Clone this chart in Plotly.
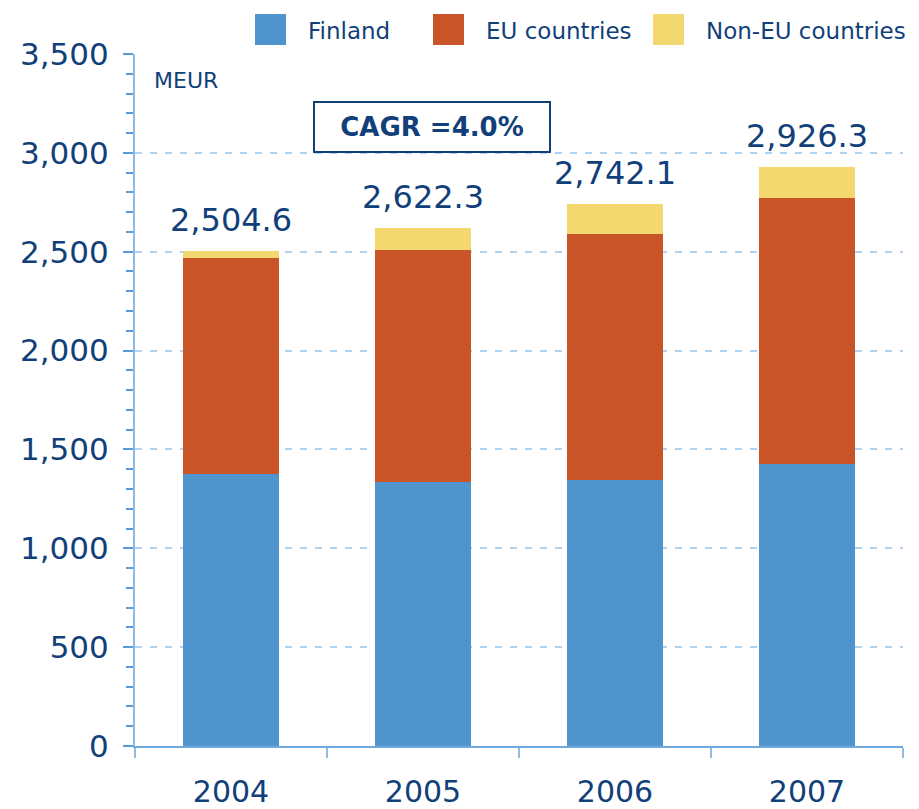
import plotly.graph_objects as go

# ---- data ----
years = ["2004", "2005", "2006", "2007"]
finland = [1376, 1335, 1345, 1426]
eu_countries = [1092, 1174, 1245, 1346]
non_eu_countries = [36.6, 113.3, 152.1, 154.3]
totals = [2504.6, 2622.3, 2742.1, 2926.3]
series_names = ["Finland", "EU countries", "Non-EU countries"]
y_ticks = [0, 500, 1000, 1500, 2000, 2500, 3000, 3500]
unit_label = "MEUR"
cagr_label = "CAGR =4.0%"

# ---- style ----
OFF = 8  # page body margin
W, H = 919 - OFF, 809 - OFF
L, R, T, B = 135 - OFF, 16, 54 - OFF, 63
colors = ["#4F94CD", "#C85427", "#F3D76F"]
navy = "#113F7A"
font_family = "DejaVu Sans"

fig = go.Figure()
for name, vals, col in zip(series_names, [finland, eu_countries, non_eu_countries], colors):
    fig.add_trace(go.Bar(x=years, y=vals, name=name, marker=dict(color=col, line=dict(width=0)),
                         showlegend=False, hoverinfo="x+y+name"))

pw = W - L - R
ph = H - T - B


def px_x(px):
    return (px - OFF - L) / pw


def px_y(py):
    return (H - B - (py - OFF)) / ph


annotations = []
# totals above bars
for i, tot in enumerate(totals):
    annotations.append(dict(x=i, y=tot, xref="x", yref="y", text=f"{tot:,.1f}",
                            showarrow=False, yanchor="bottom", xanchor="center", yshift=10,
                            font=dict(size=32, color=navy, family=font_family)))

# unit label
annotations.append(dict(x=px_x(152), y=px_y(81), xref="paper", yref="paper", text=unit_label,
                        showarrow=False, xanchor="left", yanchor="middle",
                        font=dict(size=22, color=navy, family=font_family)))

# CAGR box
annotations.append(dict(x=px_x(432), y=px_y(127), xref="paper", yref="paper",
                        text=f"<b>{cagr_label}</b>", showarrow=False, xanchor="center", yanchor="middle",
                        width=232, height=46, bordercolor=navy, borderwidth=2, borderpad=1,
                        bgcolor="white", font=dict(size=26, color=navy, family=font_family)))

# manual legend
shapes = []
legend_items = [(255, 306), (433, 484), (653, 704)]
for (sx, tx), name, col in zip(legend_items, series_names, colors):
    shapes.append(dict(type="rect", xref="paper", yref="paper",
                       x0=px_x(sx), x1=px_x(sx + 31), y0=px_y(45), y1=px_y(14),
                       fillcolor=col, line=dict(width=0)))
    annotations.append(dict(x=px_x(tx), y=px_y(31), xref="paper", yref="paper", text=name,
                            showarrow=False, xanchor="left", yanchor="middle",
                            font=dict(size=23, color=navy, family=font_family)))

fig.update_layout(
    width=W, height=H,
    margin=dict(l=L, r=R, t=T, b=B, pad=0, autoexpand=False),
    barmode="stack",
    bargap=0.495,
    plot_bgcolor="white",
    paper_bgcolor="white",
    font=dict(family=font_family, color=navy),
    annotations=annotations,
    shapes=shapes,
    showlegend=False,
)

fig.update_xaxes(
    type="category",
    range=[-0.5, 3.5],
    automargin=False,
    tickangle=0,
    showline=True, linecolor="#6FA8DC", linewidth=1.5,
    ticks="outside", tickson="boundaries", ticklen=10, tickcolor="#8DBBE6", tickwidth=1.5,
    tickfont=dict(size=30, color=navy, family=font_family),
    ticklabelstandoff=18,
    showgrid=False,
)

fig.update_yaxes(
    range=[0, 3500],
    automargin=False,
    tickvals=y_ticks,
    tickformat=",d",
    showline=True, linecolor="#8DBBE6", linewidth=2,
    ticks="outside", ticklen=10, tickcolor="#5B9BD5", tickwidth=1.5,
    minor=dict(dtick=100, ticks="outside", ticklen=7, tickcolor="#5B9BD5", tickwidth=1.5, showgrid=False),
    showgrid=True, gridcolor="#AED3F3", gridwidth=1.5, griddash="7px,8px",
    zeroline=False,
    tickfont=dict(size=31, color=navy, family=font_family),
    ticklabelstandoff=8,
)

fig.write_html("out.html")
